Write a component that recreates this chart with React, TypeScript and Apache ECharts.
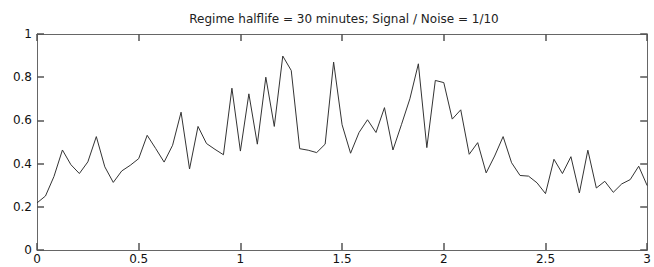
import React, { useEffect, useRef } from "react";
import * as echarts from "echarts";

const TITLE = "Regime halflife = 30 minutes; Signal / Noise = 1/10";
const SAMPLE_STEP = 1 / 24; // hours between samples
const X_TICKS = [0, 0.5, 1, 1.5, 2, 2.5, 3];
const Y_TICKS = [0, 0.2, 0.4, 0.6, 0.8, 1];
const signal = [
  0.218, 0.25, 0.34, 0.463, 0.395, 0.354, 0.408, 0.525, 0.385, 0.313,
  0.366, 0.392, 0.423, 0.531, 0.47, 0.407, 0.485, 0.638, 0.375, 0.572,
  0.493, 0.466, 0.441, 0.749, 0.458, 0.723, 0.49, 0.8, 0.572, 0.898,
  0.831, 0.469, 0.462, 0.451, 0.49, 0.87, 0.58, 0.448, 0.544, 0.603,
  0.544, 0.659, 0.463, 0.58, 0.7, 0.862, 0.474, 0.785, 0.775, 0.606,
  0.649, 0.443, 0.497, 0.357, 0.435, 0.525, 0.404, 0.345, 0.342, 0.311,
  0.261, 0.42, 0.354, 0.432, 0.264, 0.462, 0.287, 0.318, 0.267, 0.306,
  0.326, 0.388, 0.298,
];

export default function App() {
  const ref = useRef<HTMLDivElement>(null);
  useEffect(() => {
    if (!ref.current) return;
    const chart = echarts.init(ref.current, null, { renderer: "svg" });
    const data = signal.map((v, i) => [i * SAMPLE_STEP, v]);
    const axisColor = "#666666";
    const font = "DejaVu Sans";
    const makeTick = () => ({
      show: true,
      inside: true,
      length: 7,
      lineStyle: { color: "#555555", width: 1.5 },
    });
    const xBase = {
      type: "value" as const,
      min: X_TICKS[0],
      max: X_TICKS[X_TICKS.length - 1],
      interval: X_TICKS[1] - X_TICKS[0],
      splitLine: { show: false },
      axisLine: { show: true, onZero: false, lineStyle: { color: axisColor, width: 1 } },
    };
    const yBase = {
      type: "value" as const,
      min: Y_TICKS[0],
      max: Y_TICKS[Y_TICKS.length - 1],
      interval: Y_TICKS[1] - Y_TICKS[0],
      splitLine: { show: false },
      axisLine: { show: true, onZero: false, lineStyle: { color: axisColor, width: 1 } },
    };
    chart.setOption({
      animation: false,
      backgroundColor: "#ffffff",
      title: {
        text: TITLE,
        left: 344,
        top: 13,
        textAlign: "center",
        padding: 0,
        textStyle: { fontFamily: font, fontSize: 12, fontWeight: "normal", color: "#222" },
      },
      grid: { left: 37, right: 5, top: 34, bottom: 17, containLabel: false },
      xAxis: [
        {
          ...xBase,
          position: "bottom",
          axisTick: makeTick(),
          axisLabel: { show: true, margin: 3, fontFamily: font, fontSize: 12, color: "#111" },
        },
        { ...xBase, position: "top", axisTick: makeTick(), axisLabel: { show: false } },
      ],
      yAxis: [
        {
          ...yBase,
          position: "left",
          axisTick: makeTick(),
          axisLabel: { show: true, margin: 5, fontFamily: font, fontSize: 12, color: "#111" },
        },
        { ...yBase, position: "right", axisTick: makeTick(), axisLabel: { show: false } },
      ],
      series: [
        {
          type: "line",
          data,
          xAxisIndex: 0,
          yAxisIndex: 0,
          showSymbol: false,
          symbol: "none",
          lineStyle: { color: "#333", width: 1 },
        },
      ],
    });
    return () => chart.dispose();
  }, []);
  return (
    <div
      ref={ref}
      style={{ position: "fixed", left: 0, top: 0, width: 654, height: 267, background: "#fff" }}
    />
  );
}
